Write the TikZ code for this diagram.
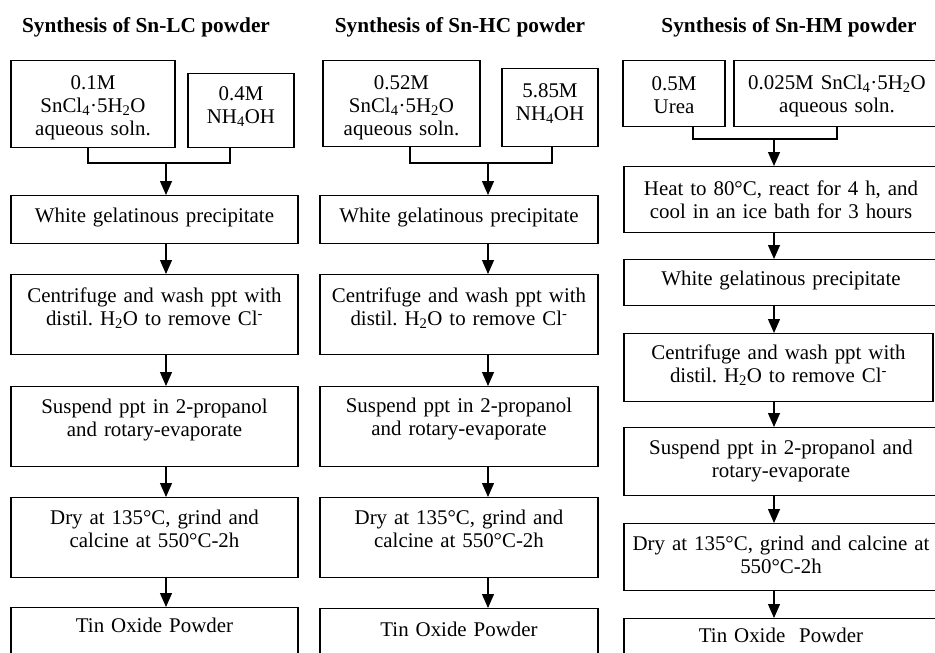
\documentclass[tikz,border=0pt]{standalone}
\usepackage{fontspec}
\setmainfont{Liberation Serif}
\usetikzlibrary{arrows.meta, positioning}
\frenchspacing

\begin{document}
\begin{tikzpicture}[
		x=1pt, y=-1pt,
		->,
		>={Triangle[width=12pt, length=14pt]},
		line width=1.2pt,
		every node/.style={font=\fontsize{20.9}{23}\selectfont},
		title/.style={anchor=base, font=\fontsize{21.3}{23}\selectfont\bfseries},
		stepbox/.style={draw, rectangle, anchor=north, inner sep=0pt, align=center},
		sized/.style n args={3}{minimum width=#1pt, text width=#1pt, text height=#2pt, text depth=#3pt}]

	\useasboundingbox (0,0) rectangle (935,653);
	\clip (0,0) rectangle (935,653);

	% Sn-LC
	\node[title] (lctitle) at (146,32) {Synthesis of Sn-LC powder};
	\node[stepbox, sized={164}{29}{58}] (lcA) at (93,60) {0.1M\\SnCl\textsubscript{4}·5H\textsubscript{2}O\\aqueous soln.};
	\node[stepbox, sized={106}{27}{47}] (lcB) at (241,73) {0.4M\\NH\textsubscript{4}OH};
	\node[stepbox, sized={287}{27}{21}] (lcW) at (154.5,195) {White gelatinous precipitate};
	\node[stepbox, sized={287}{28}{52}] (lcC) at (154.5,274) {Centrifuge and wash ppt with\\distil. H\textsubscript{2}O to remove Cl\textsuperscript{-}};
	\node[stepbox, sized={287}{27}{53}] (lcS) at (154.5,386) {Suspend ppt in 2-propanol\\and rotary-evaporate};
	\node[stepbox, sized={287}{27}{53}] (lcD) at (154.5,497) {Dry at 135°C, grind and\\calcine at 550°C-2h};
	\node[stepbox, sized={287}{25}{23}] (lcT) at (154.5,607) {Tin Oxide Powder};

	\coordinate (lcjoin) at (166,163);
	\draw[-] ([xshift=-5pt]lcA.south) |- (lcjoin) -| ([xshift=-11pt]lcB.south);
	\draw (lcjoin) -- (lcjoin |- lcW.north);
	\foreach \a/\b in {lcW/lcC, lcC/lcS, lcS/lcD, lcD/lcT}
		\draw (\a.south -| lcjoin) -- (\b.north -| lcjoin);

	% Sn-HC
	\node[title] (hctitle) at (460,32) {Synthesis of Sn-HC powder};
	\node[stepbox, sized={157}{29}{57}] (hcA) at (401.5,60) {0.52M\\SnCl\textsubscript{4}·5H\textsubscript{2}O\\aqueous soln.};
	\node[stepbox, sized={96}{29}{49}] (hcB) at (550,68) {5.85M\\NH\textsubscript{4}OH};
	\node[stepbox, sized={278}{27}{21}] (hcW) at (459,195) {White gelatinous precipitate};
	\node[stepbox, sized={278}{28}{52}] (hcC) at (459,274) {Centrifuge and wash ppt with\\distil. H\textsubscript{2}O to remove Cl\textsuperscript{-}};
	\node[stepbox, sized={278}{26}{54}] (hcS) at (459,386) {Suspend ppt in 2-propanol\\and rotary-evaporate};
	\node[stepbox, sized={278}{27}{53}] (hcD) at (459,497) {Dry at 135°C, grind and\\calcine at 550°C-2h};
	\node[stepbox, sized={278}{28}{20}] (hcT) at (459,608) {Tin Oxide Powder};

	\coordinate (hcjoin) at (488,163);
	\draw[-] ([xshift=8.5pt]hcA.south) |- (hcjoin) -| ([xshift=2pt]hcB.south);
	\draw (hcjoin) -- (hcjoin |- hcW.north);
	\foreach \a/\b in {hcW/hcC, hcC/hcS, hcS/hcD, hcD/hcT}
		\draw (\a.south -| hcjoin) -- (\b.north -| hcjoin);

	% Sn-HM
	\node[title] (hmtitle) at (789,32) {Synthesis of Sn-HM powder};
	\node[stepbox, sized={102}{30}{36}] (hmA) at (674,60) {0.5M\\Urea};
	\node[stepbox, sized={206}{29}{37}] (hmB) at (837,60) {0.025M SnCl\textsubscript{4}·5H\textsubscript{2}O\\aqueous soln.};
	\node[stepbox, sized={314}{29}{37}] (hmH) at (781,166) {Heat to 80°C, react for 4 h, and\\cool in an ice bath for 3 hours};
	\node[stepbox, sized={314}{26}{20}] (hmW) at (781,259) {White gelatinous precipitate};
	\node[stepbox, sized={309}{26}{42}] (hmC) at (778.5,333) {Centrifuge and wash ppt with\\distil. H\textsubscript{2}O to remove Cl\textsuperscript{-}};
	\node[stepbox, sized={314}{27}{41}] (hmS) at (781,427) {Suspend ppt in 2-propanol and\\rotary-evaporate};
	\node[stepbox, sized={314}{27}{40}] (hmD) at (781,523) {Dry at 135°C, grind and calcine at\\550°C-2h};
	\node[stepbox, sized={314}{24}{24}] (hmT) at (781,618) {Tin Oxide\ \ Powder};

	\coordinate (hmjoin) at (774,139);
	\draw[-] ([xshift=19pt]hmA.south) |- (hmjoin) -| (hmB.south);
	\draw (hmjoin) -- (hmjoin |- hmH.north);
	\foreach \a/\b in {hmH/hmW, hmW/hmC, hmC/hmS, hmS/hmD, hmD/hmT}
		\draw (\a.south -| hmjoin) -- (\b.north -| hmjoin);
\end{tikzpicture}
\end{document}
